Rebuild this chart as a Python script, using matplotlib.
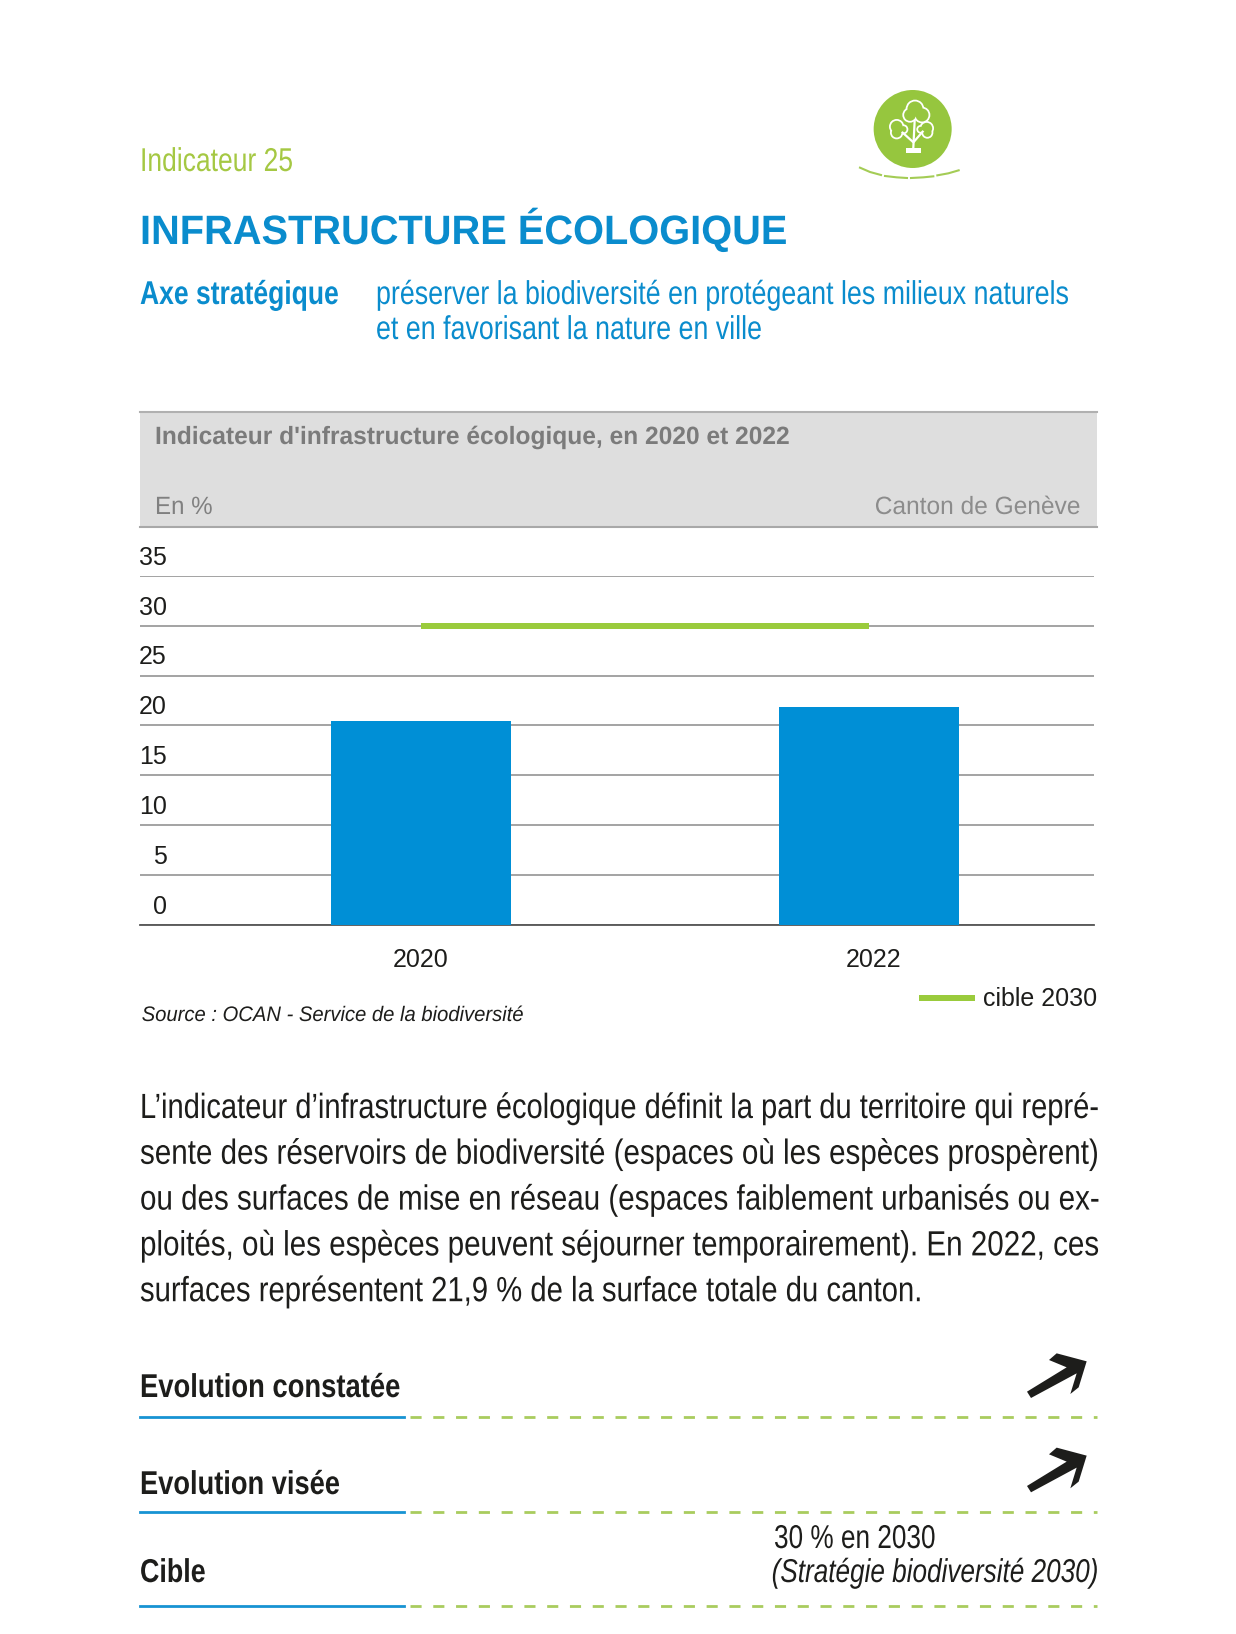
import matplotlib
matplotlib.use("Agg")
import matplotlib.pyplot as plt
from matplotlib.patches import Circle, Polygon, Rectangle
from matplotlib.patheffects import AbstractPathEffect
from matplotlib.transforms import Affine2D, ScaledTranslation

W, H = 1236, 1634
PT = 0.72  # px -> pt at dpi 100

years = ["2020", "2022"]
values = [20.4, 21.9]
target = [30, 30]
yticks = [0, 5, 10, 15, 20, 25, 30, 35]

body_lines = [
    "L’indicateur d’infrastructure écologique définit la part du territoire qui repré-",
    "sente des réservoirs de biodiversité (espaces où les espèces prospèrent)",
    "ou des surfaces de mise en réseau (espaces faiblement urbanisés ou ex-",
    "ploités, où les espèces peuvent séjourner temporairement). En 2022, ces",
    "surfaces représentent 21,9 % de la surface totale du canton.",
]
body_ends = [1100, 1100, 1100, 1100, 923]

BLUE = "#0a8ccd"
GREEN = "#9acb3c"
ICON = "#96c63e"
DARK = "#1d1d1b"
SANS = "Liberation Sans"

fig = plt.figure(figsize=(W / 100, H / 100), dpi=100, facecolor="white")
renderer = fig.canvas.get_renderer()

# page overlay in pixel coordinates
page = fig.add_axes([0, 0, 1, 1], zorder=0)
page.set_xlim(0, W)
page.set_ylim(H, 0)
page.axis("off")

# header band of the chart
page.add_patch(Rectangle((140, 411), 957, 116, fc="#dedede", ec="none"))
page.plot([140, 1097], [411.5, 411.5], color="#b0b0b0", lw=1.5)
page.plot([140, 1097], [527, 527], color="#a8a8a8", lw=1.5)


class Stretch(AbstractPathEffect):
    # the page text is a condensed face, none installed: smaller font, taller glyphs
    def __init__(self, y0, sy):
        super().__init__()
        self.y0, self.sy = y0, sy

    def draw_path(self, renderer, gc, tpath, affine, rgbFace=None):
        tall = Affine2D().translate(0, -self.y0).scale(1, self.sy).translate(0, self.y0)
        renderer.draw_path(gc, tpath, affine + tall, rgbFace)


def label(x0, x1, y, s, size, color=DARK, ha="left", **kw):
    anchor = x0 if ha == "left" else x1
    t = page.text(anchor, y, s, fontsize=size * PT, color=color, family=SANS,
                  va="baseline", ha=ha, **kw)
    fit = (x1 - x0) / t.get_window_extent(renderer).width
    t.set_fontsize(size * PT * fit)
    t.set_path_effects([Stretch(H - y, 1 / fit)])
    return t


label(140, 292.8, 171, "Indicateur 25", 33, color="#a5c843")
label(140, 787.5, 244, "INFRASTRUCTURE ÉCOLOGIQUE", 41, color=BLUE, weight="bold")
label(140, 338.7, 304, "Axe stratégique", 33, color=BLUE, weight="bold")
label(376, 1069, 304, "préserver la biodiversité en protégeant les milieux naturels", 33, color=BLUE)
label(376, 761.7, 339, "et en favorisant la nature en ville", 33, color=BLUE)

label(155, 790, 444, "Indicateur d'infrastructure écologique, en 2020 et 2022", 25, color="#7b7b7b", weight="bold")
label(155, 212.6, 514, "En %", 25, color="#808080")
label(875, 1080.6, 514, "Canton de Genève", 25, color="#8c8c8c", ha="right")
label(141.7, 523, 1021, "Source : OCAN - Service de la biodiversité", 21, style="italic")

for i, line in enumerate(body_lines):
    label(140, body_ends[i], 1118 + i * 45.8, line, 35)

label(140, 400, 1397, "Evolution constatée", 33, weight="bold")
label(140, 339.7, 1494, "Evolution visée", 33, weight="bold")
label(140, 205.5, 1582, "Cible", 33, weight="bold")
label(774, 935, 1548, "30 % en 2030", 33)
label(771, 1098, 1582, "(Stratégie biodiversité 2030)", 33, style="italic", ha="right")

# rows at the bottom
for y in [1417.3, 1511.7, 1606]:
    page.plot([140, 403.5], [y, y], color="#1793d3", lw=2)
    page.plot([410, 1097], [y, y], color="#a9cc5e", lw=2, dashes=(8 / 2, 8.4 / 2))

# arrows
shape = [(381, 185), (500, 112), (447, 90), (470, 70), (560, 94), (536, 172), (511, 192), (530, 130), (393, 204)]
for off in [0, 94.3]:
    pts = [(900 + a / 3, 1330 + off + b / 3) for a, b in shape]
    page.add_patch(Polygon(pts, closed=True, fc=DARK, ec="none"))


def zx(a):
    return 780 + a / 3


def zy(b):
    return 60 + b / 3


# icon
page.add_patch(Circle((zx(398), zy(207)), 39, fc=ICON, ec="none"))
lobes = [(405, 147, 28), (390, 165, 23), (426, 165, 25),
         (350, 200, 23), (350, 218, 20), (370, 208, 15),
         (440, 205, 22), (442, 218, 18), (422, 208, 13)]
for a, b, r in lobes:
    page.add_patch(Circle((zx(a), zy(b)), r / 3, fc="white", ec="none"))
for a, b, r in lobes:
    page.add_patch(Circle((zx(a), zy(b)), r / 3 - 1.8, fc=ICON, ec="none"))
for seg in [[(400, 262), (404, 182)], [(398, 245), (368, 218)], [(402, 245), (428, 215)]]:
    page.plot([zx(p[0]) for p in seg], [zy(p[1]) for p in seg], color="white", lw=1.6)
page.add_patch(Rectangle((zx(378), zy(263)), 44 / 3, 17 / 3, fc="white", ec="none"))
for seg in [[(240, 323), (270, 336), (303, 345)], [(315, 348), (350, 352), (381, 354)],
            [(393, 354), (430, 352), (460, 349)], [(472, 346), (505, 340), (536, 331)]]:
    page.plot([zx(p[0]) for p in seg], [zy(p[1]) for p in seg], color="#a4cc55", lw=1.5)

# chart
left, right, top, bottom = 140, 1094, 576, 924.7
ax = fig.add_axes([left / W, 1 - bottom / H, (right - left) / W, (bottom - top) / H], zorder=1)
ax.patch.set_alpha(0)
x = [0, 1]
ax.bar(x, values, width=0.4014, color="#008fd6", zorder=3)
ax.plot(x, target, color=GREEN, lw=6 * PT, solid_capstyle="butt", zorder=4, label="cible 2030")
ax.set_xlim(-281 / 448.4, 673 / 448.4)
ax.set_ylim(0, 35)
ax.set_yticks(yticks)
ax.set_xticks([0, 1.01])
ax.set_xticklabels(years)
ax.grid(axis="y", color="#8a8a8a", lw=1.1, zorder=1)
ax.set_axisbelow(True)
for name in ["top", "right", "left"]:
    ax.spines[name].set_visible(False)
ax.spines["bottom"].set_color("#555555")
ax.spines["bottom"].set_linewidth(1.3)
ax.tick_params(axis="x", length=0, pad=17, labelsize=25 * PT, labelcolor=DARK)
ax.tick_params(axis="y", length=0, pad=-27 * PT, labelsize=25 * PT, labelcolor=DARK)
shift = ScaledTranslation(0, 6.2 / 100, fig.dpi_scale_trans)
for t in ax.get_yticklabels():
    t.set_family(SANS)
    t.set_verticalalignment("bottom")
    t.set_transform(t.get_transform() + shift)
for t in ax.get_xticklabels():
    t.set_family(SANS)

ax.legend(loc="center right", bbox_to_anchor=(1.003, -0.214), frameon=False, handlelength=2.24,
          handletextpad=0.32, borderpad=0, borderaxespad=0,
          prop={"family": SANS, "size": 25 * PT}, labelcolor=DARK)

fig.savefig("out.png", dpi=100, facecolor="white")
